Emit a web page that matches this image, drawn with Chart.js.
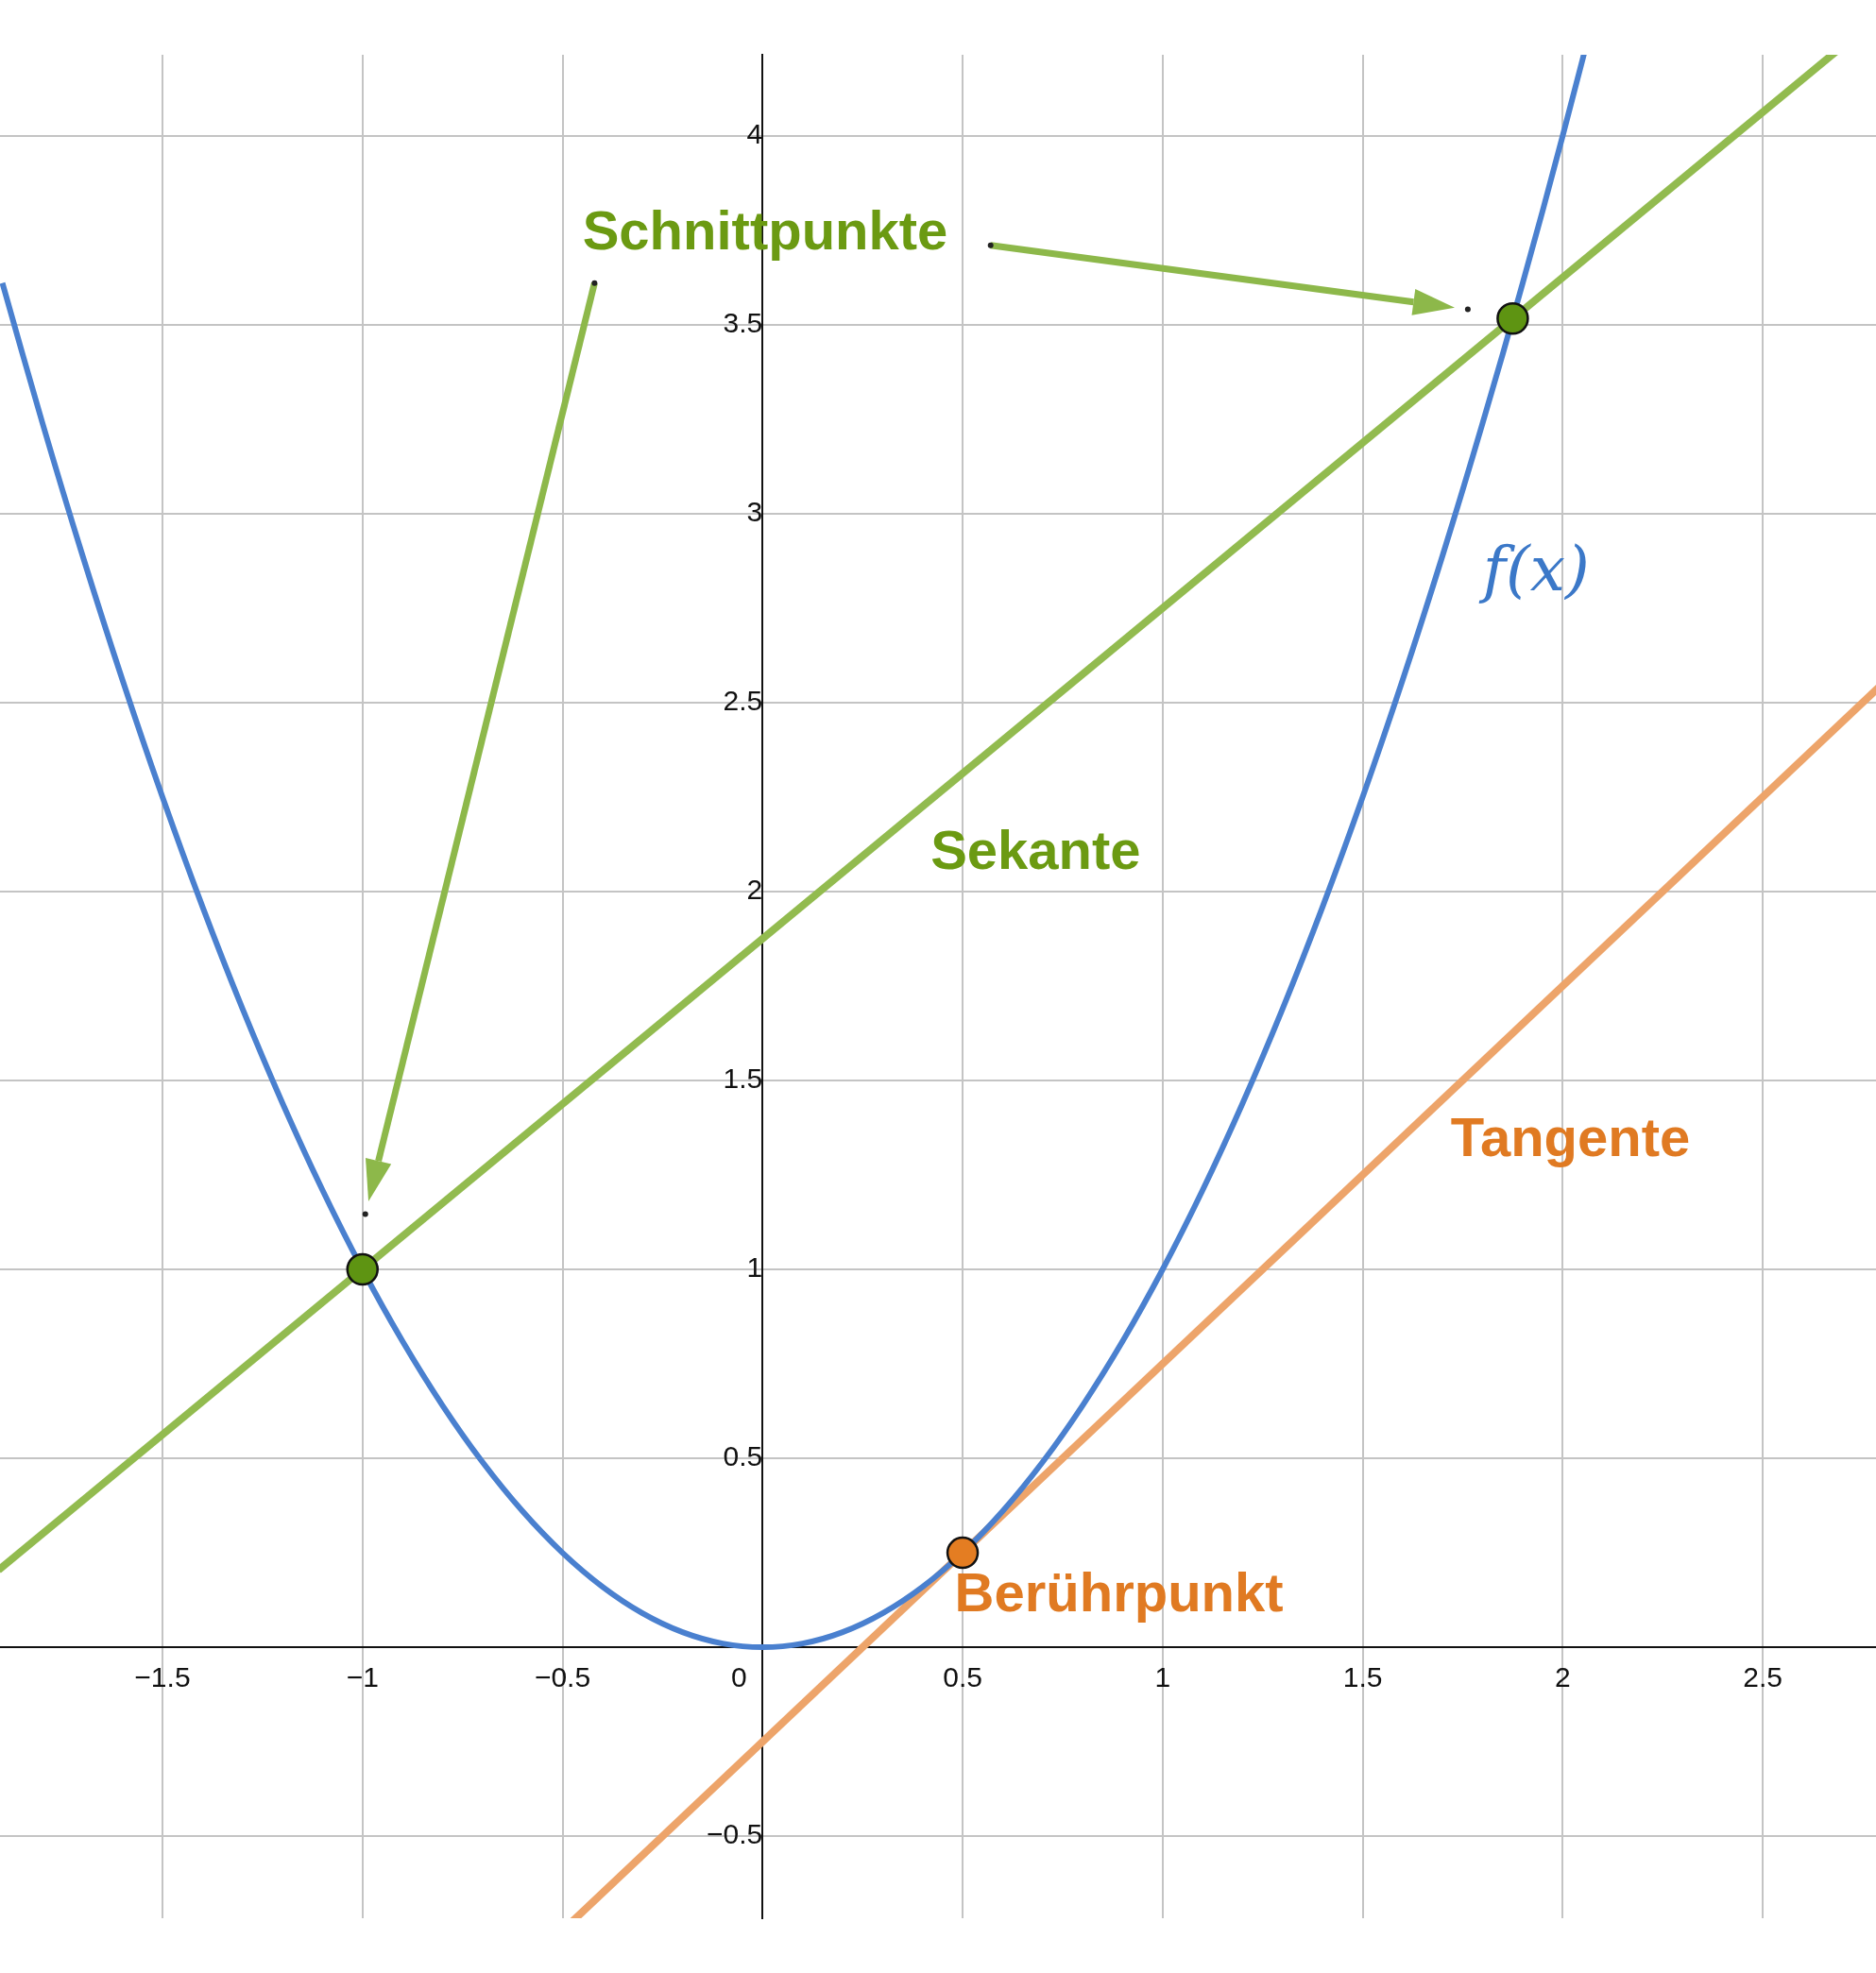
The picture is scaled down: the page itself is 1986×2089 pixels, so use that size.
<!DOCTYPE html>
<html>
<head>
<meta charset="utf-8">
<script src="https://cdn.jsdelivr.net/npm/chart.js@4/dist/chart.umd.min.js"></script>
<style>
  body { margin: 0; background: #fff; }
  canvas { display: block; }
</style>
</head>
<body>
<canvas id="myChart" width="1986" height="2089"></canvas>
<script>
// curve f(x)
var curveX = [-1.9, -1.8, -1.7, -1.6, -1.5, -1.4, -1.3, -1.2, -1.1, -1.0, -0.9, -0.8, -0.7, -0.6, -0.5, -0.4, -0.3, -0.2, -0.1, 0,
  0.1, 0.2, 0.3, 0.4, 0.5, 0.6, 0.7, 0.8, 0.9, 1.0, 1.1, 1.2, 1.3, 1.4, 1.5, 1.6, 1.7, 1.8, 1.9, 2.0, 2.1];
var curveY = [3.61, 3.24, 2.89, 2.56, 2.25, 1.96, 1.69, 1.44, 1.21, 1.0, 0.81, 0.64, 0.49, 0.36, 0.25, 0.16, 0.09, 0.04, 0.01, 0,
  0.01, 0.04, 0.09, 0.16, 0.25, 0.36, 0.49, 0.64, 0.81, 1.0, 1.21, 1.44, 1.69, 1.96, 2.25, 2.56, 2.89, 3.24, 3.61, 4.0, 4.41];
// secant and tangent end points
var sekanteX = [-1.91, 2.79];
var sekanteY = [0.204, 4.316];
var tangenteX = [-0.48, 2.79];
var tangenteY = [-0.73, 2.54];
// marked points
var schnittX = [-1.0, 1.875];
var schnittY = [1.0, 3.516];
var beruehrX = [0.5];
var beruehrY = [0.25];
var xTicks = [-1.5, -1, -0.5, 0, 0.5, 1, 1.5, 2, 2.5];
var yTicks = [-0.5, 0.5, 1, 1.5, 2, 2.5, 3, 3.5, 4];

function pts(xs, ys) {
  return xs.map(function (x, i) { return { x: x, y: ys[i] }; });
}

var labelFont = "bold 58px 'Liberation Sans', Arial, sans-serif";

var notes = {
  id: "notes",
  afterDatasetsDraw: function (chart) {
    var c = chart.ctx, sx = chart.scales.x, sy = chart.scales.y;
    function px(x) { return sx.getPixelForValue(x); }
    function py(y) { return sy.getPixelForValue(y); }
    function arrow(x1, y1, x2, y2) {
      var ax = px(x1), ay = py(y1), bx = px(x2), by = py(y2);
      var ang = Math.atan2(by - ay, bx - ax);
      var hl = 44, hw = 14;
      var ex = bx - Math.cos(ang) * hl, ey = by - Math.sin(ang) * hl;
      c.save();
      c.strokeStyle = "#8db84a"; c.fillStyle = "#8db84a"; c.lineWidth = 7;
      c.beginPath(); c.moveTo(ax, ay); c.lineTo(ex, ey); c.stroke();
      c.beginPath(); c.moveTo(bx, by);
      c.lineTo(ex + Math.sin(ang) * hw, ey - Math.cos(ang) * hw);
      c.lineTo(ex - Math.sin(ang) * hw, ey + Math.cos(ang) * hw);
      c.closePath(); c.fill();
      c.fillStyle = "#222";
      [[ax, ay], [px(x2) + Math.cos(ang) * 14, py(y2) + Math.sin(ang) * 14]].forEach(function (p) {
        c.beginPath(); c.arc(p[0], p[1], 3, 0, Math.PI * 2); c.fill();
      });
      c.restore();
    }
    arrow(-0.42, 3.61, -0.985, 1.18);
    arrow(0.57, 3.71, 1.73, 3.545);

    c.save();
    c.textBaseline = "middle"; c.textAlign = "left";
    c.font = labelFont;
    c.fillStyle = "#6b9a12";
    c.fillText("Schnittpunkte", px(-0.45), py(3.74));
    c.fillText("Sekante", px(0.42), py(2.1));
    c.fillStyle = "#e07a22";
    c.fillText("Tangente", px(1.72), py(1.34));
    c.fillText("Berührpunkt", px(0.48), py(0.135));
    c.fillStyle = "#3b78c8";
    c.font = "italic 66px 'DejaVu Serif', serif";
    c.fillText("f(x)", px(1.8), py(2.84));
    c.restore();
  }
};

var ctx = document.getElementById("myChart").getContext("2d");
var tickFont = { family: "'Liberation Sans', Arial, sans-serif", size: 30 };

new Chart(ctx, {
  type: "scatter",
  data: {
    datasets: [
      { data: pts(curveX, curveY), showLine: true, borderColor: "#4a80cf", borderWidth: 6, pointRadius: 0, tension: 0.4, order: 3 },
      { data: pts(sekanteX, sekanteY), showLine: true, borderColor: "#92bb4f", borderWidth: 8, pointRadius: 0, order: 4 },
      { data: pts(tangenteX, tangenteY), showLine: true, borderColor: "#eda46a", borderWidth: 8, pointRadius: 0, order: 5 },
      { data: pts(schnittX, schnittY), pointRadius: 16, pointBackgroundColor: "#5e9412", pointBorderColor: "#111", pointBorderWidth: 2.5, order: 1 },
      { data: pts(beruehrX, beruehrY), pointRadius: 16, pointBackgroundColor: "#e47d22", pointBorderColor: "#111", pointBorderWidth: 2.5, order: 1 }
    ]
  },
  options: {
    responsive: false,
    animation: false,
    devicePixelRatio: 1,
    layout: { padding: 0, autoPadding: false },
    plugins: { legend: { display: false }, tooltip: { enabled: false } },
    scales: {
      x: {
        type: "linear", min: -1.906, max: 2.783, position: { y: 0 },
        afterBuildTicks: function (s) { s.ticks = xTicks.map(function (v) { return { value: v }; }); },
        afterFit: function (s) { s.height = 0; },
        grid: { color: "#c4c4c4", lineWidth: 2, drawTicks: false },
        border: { color: "#111", width: 2 },
        ticks: { color: "#111", font: tickFont, padding: 16,
          callback: function (v) { return v === 0 ? "0      " : String(v).replace("-", "\u2212"); } }
      },
      y: {
        type: "linear", min: -0.717, max: 4.214, position: { x: 0 },
        afterBuildTicks: function (s) { s.ticks = yTicks.map(function (v) { return { value: v }; }); },
        afterFit: function (s) { s.width = 0; },
        grid: { color: "#c4c4c4", lineWidth: 2, drawTicks: false },
        border: { color: "#111", width: 2 },
        ticks: { color: "#111", font: tickFont, padding: 40,
          callback: function (v) { return String(v).replace("-", "\u2212"); } }
      }
    }
  },
  plugins: [notes]
});
</script>
</body>
</html>
